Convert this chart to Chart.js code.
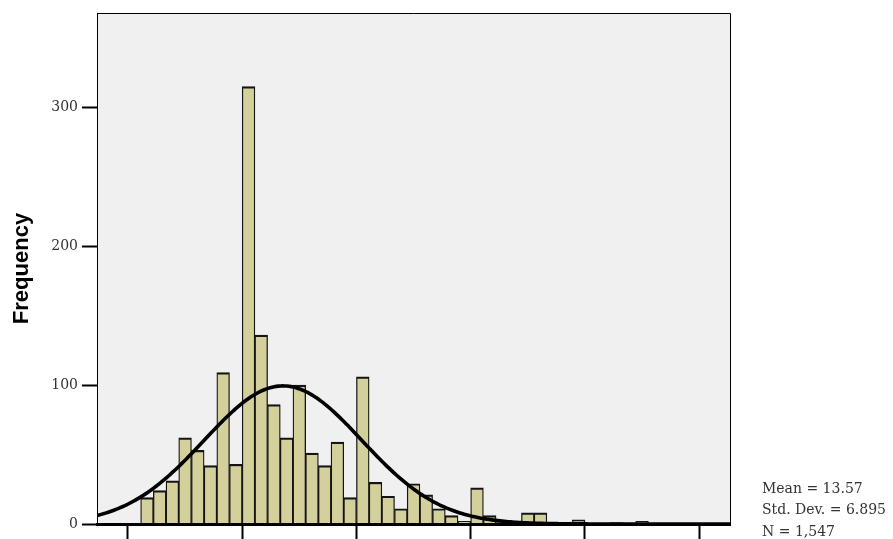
<!DOCTYPE html>
<html>
<head>
<meta charset="utf-8">
<script src="https://cdn.jsdelivr.net/npm/chart.js@4/dist/chart.umd.min.js"></script>
<style>
  html, body { margin: 0; padding: 0; background: #ffffff; overflow: hidden; }
  #wrap { width: 893px; height: 539px; position: relative; }
</style>
</head>
<body>
<div id="wrap"><canvas id="c"></canvas></div>
<script>
// Histogram bins: bin i covers [i * binWidth, (i + 1) * binWidth)
const binWidth = 10 / 9;
const frequency = [
  0, 19, 24, 31, 62, 53, 42, 109, 43, 315,
  136, 86, 62, 100, 51, 42, 59, 19, 106, 30,
  20, 11, 29, 21, 11, 6, 2, 26, 6, 1,
  1, 8, 8, 0, 0, 3, 0, 0, 1, 0,
  2, 0, 0, 0, 0, 0, 0, 0
];
const yTicks = [0, 100, 200, 300];
const xTicks = [0, 10, 20, 30, 40, 50];
const meanValue = 13.57;
const sdValue = 6.895;
const nValue = 1547;
const xMin = -2.71, xMax = 52.7;
const yMax = 368;

const statLines = [
  'Mean = ' + meanValue.toFixed(2),
  'Std. Dev. = ' + sdValue.toFixed(3),
  'N = ' + nValue.toLocaleString('en-US')
];

// bar points at bin centres
const barPoints = frequency.map((f, i) => ({ x: (i + 0.5) * binWidth, y: f }));

// normal curve scaled to the histogram (count per bin)
const curvePoints = [];
const steps = 300;
const peak = nValue * binWidth / (sdValue * Math.sqrt(2 * Math.PI));
for (let k = 0; k <= steps; k++) {
  const x = xMin + (xMax - xMin) * k / steps;
  const z = (x - meanValue) / sdValue;
  curvePoints.push({ x: x, y: peak * Math.exp(-0.5 * z * z) });
}

const plotFrame = {
  id: 'plotFrame',
  beforeDraw(chart) {
    const { ctx, chartArea: a } = chart;
    ctx.save();
    ctx.fillStyle = '#f0f0f0';
    ctx.fillRect(a.left, a.top, a.right - a.left, a.bottom - a.top);
    ctx.restore();
  },
  afterDraw(chart) {
    const { ctx, chartArea: a } = chart;
    ctx.save();
    ctx.strokeStyle = '#000000';
    ctx.lineWidth = 1;
    ctx.beginPath();
    ctx.moveTo(a.left, a.top + 0.5);
    ctx.lineTo(a.right + 0.5, a.top + 0.5);
    ctx.lineTo(a.right + 0.5, a.bottom);
    ctx.stroke();

    ctx.fillStyle = '#333333';
    ctx.font = '14px "DejaVu Serif"';
    ctx.textAlign = 'left';
    ctx.textBaseline = 'middle';
    const ys = [489, 510.5, 532];
    statLines.forEach((t, i) => ctx.fillText(t, 762, ys[i]));
    ctx.restore();
  }
};

new Chart(document.getElementById('c'), {
  type: 'bar',
  data: {
    datasets: [
      {
        type: 'line',
        data: curvePoints,
        borderColor: '#000000',
        borderWidth: 3.6,
        pointRadius: 0,
        tension: 0,
        fill: false,
        order: 0
      },
      {
        type: 'bar',
        data: barPoints,
        backgroundColor: '#d4d09c',
        borderColor: '#141414',
        borderWidth: { top: 2.2, left: 1.3, right: 1.3, bottom: 0 },
        borderSkipped: false,
        barPercentage: 1,
        categoryPercentage: 1,
        order: 1
      }
    ]
  },
  options: {
    responsive: true,
    maintainAspectRatio: false,
    devicePixelRatio: 1,
    animation: false,
    layout: { padding: { top: 13, right: 163, left: 0, bottom: 0 } },
    plugins: { legend: { display: false }, tooltip: { enabled: false } },
    scales: {
      x: {
        type: 'linear',
        min: xMin,
        max: xMax,
        offset: false,
        grid: { drawOnChartArea: false, offset: false, tickLength: 15, tickWidth: 2, tickColor: '#000000' },
        border: { display: true, color: '#000000', width: 3, z: 1 },
        ticks: { display: false, includeBounds: false },
        afterBuildTicks(scale) { scale.ticks = xTicks.map(v => ({ value: v })); },
        afterFit(scale) { scale.height = 15; }
      },
      y: {
        type: 'linear',
        min: 0,
        max: yMax,
        grid: { drawOnChartArea: false, tickLength: 15, tickWidth: 2, tickColor: '#000000' },
        border: { display: true, color: '#000000', width: 1 },
        ticks: {
          padding: 4,
          color: '#333333',
          font: { family: 'DejaVu Serif', size: 14 },
          includeBounds: false
        },
        afterBuildTicks(scale) { scale.ticks = yTicks.map(v => ({ value: v })); },
        title: {
          display: true,
          text: 'Frequency',
          color: '#000000',
          font: { family: 'Liberation Sans', size: 22, weight: 'bold' },
          padding: { top: 9, bottom: 0 }
        },
        afterFit(scale) { scale.width = 97; }
      }
    }
  },
  plugins: [plotFrame]
});
</script>
</body>
</html>
